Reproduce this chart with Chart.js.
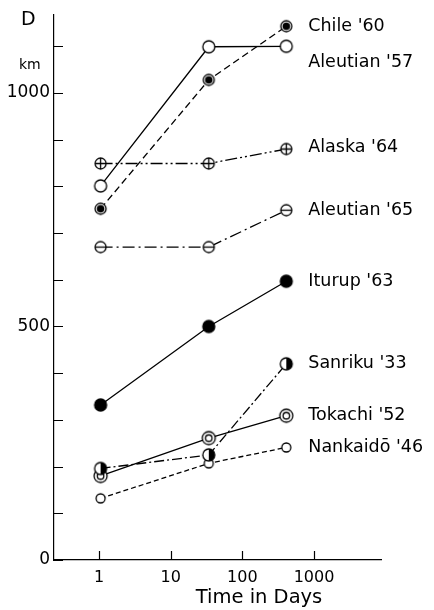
<!DOCTYPE html>
<html>
<head>
<meta charset="utf-8">
<style>
  body { margin: 0; background: #fff; }
  #wrap { width: 434px; height: 610px; }
</style>
</head>
<body>
<div id="wrap"><canvas id="chart" width="434" height="610"></canvas></div>
<script src="https://cdn.jsdelivr.net/npm/chart.js"></script>
<script>
    // Time after the earthquake (days) for the three measurements
    const days = [1.05, 34, 410];

    const chile60 = [752, 1028, 1143];
    const aleutian57 = [801, 1099, 1100];
    const alaska64 = [849, 849, 880];
    const aleutian65 = [670, 670, 749];
    const iturup63 = [332, 500, 597];
    const sanriku33 = [196, 225, 420];
    const tokachi52 = [180, 261, 309];
    const nankaido46 = [132, 207, 241];

    const seriesNames = ["Chile '60", "Aleutian '57", "Alaska '64", "Aleutian '65",
        "Iturup '63", "Sanriku '33", "Tokachi '52", "Nankaidō '46"];

    const xTicks = [1, 10, 100, 1000];
    const yTickStep = 100;
    const yLabelled = [0, 500, 1000];

    const FONT = '"DejaVu Sans", sans-serif';

    // small canvases used as point markers
    function makeMarker(kind, r) {
        const size = Math.ceil(2 * r + 4);
        const c = document.createElement('canvas');
        c.width = size; c.height = size;
        const g = c.getContext('2d');
        const m = size / 2;
        g.lineWidth = 1.3;
        g.strokeStyle = '#000';
        g.fillStyle = '#fff';
        g.beginPath(); g.arc(m, m, r, 0, Math.PI * 2);
        g.fill();
        if (kind === 'filled') { g.fillStyle = '#000'; g.fill(); }
        g.stroke();
        if (kind === 'dot') {
            g.fillStyle = '#000';
            g.beginPath(); g.arc(m, m, r * 0.68, 0, Math.PI * 2); g.fill();
        }
        if (kind === 'cross' || kind === 'minus') {
            g.beginPath();
            g.moveTo(m - r, m); g.lineTo(m + r, m);
            if (kind === 'cross') { g.moveTo(m, m - r); g.lineTo(m, m + r); }
            g.stroke();
        }
        if (kind === 'half') {
            g.fillStyle = '#000';
            g.beginPath(); g.arc(m, m, r, -Math.PI / 2, Math.PI / 2); g.closePath(); g.fill();
        }
        if (kind === 'double') {
            g.beginPath(); g.arc(m, m, r * 0.5, 0, Math.PI * 2); g.stroke();
        }
        return c;
    }

    function series(i, data, kind, r, dash, labelDy) {
        return {
            label: seriesNames[i],
            data: days.map((d, j) => ({ x: d, y: data[j] })),
            borderColor: '#000',
            borderWidth: 1.3,
            borderDash: dash,
            pointStyle: makeMarker(kind, r),
            pointRadius: r,
            fill: false,
            clip: false,
            labelDy: labelDy || 0
        };
    }

    const datasets = [
        series(0, chile60, 'dot', 5.5, [7, 4]),
        series(1, aleutian57, 'open', 6, [], 16),
        series(2, alaska64, 'cross', 5.5, [12, 3, 2, 3, 2, 3], -2),
        series(3, aleutian65, 'minus', 5.5, [12, 4, 2, 4]),
        series(4, iturup63, 'filled', 6, []),
        series(5, sanriku33, 'half', 6, [10, 3, 2, 3]),
        series(6, tokachi52, 'double', 6.5, []),
        series(7, nankaido46, 'open', 4.5, [5, 3])
    ];

    // inward tick marks, series names and axis captions
    const decorations = {
        id: 'decorations',
        afterDraw(chart) {
            const ctx = chart.ctx;
            const xs = chart.scales.x, ys = chart.scales.y;
            const area = chart.chartArea;
            ctx.save();
            ctx.strokeStyle = '#000';
            ctx.lineWidth = 1.2;
            ctx.beginPath();
            ys.ticks.forEach(t => {
                const y = Math.round(ys.getPixelForValue(t.value)) + 0.5;
                ctx.moveTo(area.left, y); ctx.lineTo(area.left + 9, y);
            });
            xs.ticks.forEach(t => {
                const x = Math.round(xs.getPixelForValue(t.value)) + 0.5;
                ctx.moveTo(x, area.bottom); ctx.lineTo(x, area.bottom - 9);
            });
            ctx.stroke();

            ctx.fillStyle = '#000';
            ctx.font = '17.5px ' + FONT;
            ctx.textBaseline = 'middle';
            ctx.textAlign = 'left';
            chart.data.datasets.forEach((ds, i) => {
                const pts = chart.getDatasetMeta(i).data;
                const last = pts[pts.length - 1];
                ctx.fillText(ds.label, last.x + 22, last.y + ds.labelDy);
            });

            ctx.font = '19px ' + FONT;
            ctx.fillText('D', 21, 20);
            ctx.font = '14px ' + FONT;
            ctx.fillText('km', 19, 65);
            ctx.textAlign = 'center';
            ctx.font = '19.5px ' + FONT;
            ctx.fillText('Time in Days', 259, 598);
            ctx.restore();
        }
    };

    new Chart(document.getElementById('chart'), {
        type: 'line',
        data: { datasets: datasets },
        options: {
            responsive: false,
            animation: false,
            layout: { padding: { top: 15, right: 53, left: 0, bottom: 0 } },
            plugins: { legend: { display: false }, tooltip: { enabled: false } },
            scales: {
                x: {
                    type: 'logarithmic',
                    min: 0.235,
                    max: 8600,
                    afterBuildTicks: s => { s.ticks = xTicks.map(v => ({ value: v })); },
                    afterFit: s => { s.height = 50; },
                    grid: { display: false, drawTicks: false },
                    border: { display: true, color: '#000', width: 1.2 },
                    ticks: {
                        color: '#000',
                        font: { family: FONT, size: 16 },
                        padding: 8,
                        maxRotation: 0,
                        callback: v => String(v)
                    }
                },
                y: {
                    min: 0,
                    max: 1167,
                    afterBuildTicks: s => {
                        const t = [];
                        for (let v = 0; v <= 1100; v += yTickStep) t.push({ value: v });
                        s.ticks = t;
                    },
                    afterFit: s => { s.width = 54; },
                    grid: { display: false, drawTicks: false },
                    border: { display: true, color: '#000', width: 1.2 },
                    ticks: {
                        color: '#000',
                        font: { family: FONT, size: 17 },
                        padding: 4,
                        callback: v => yLabelled.includes(v) ? String(v) : ''
                    }
                }
            }
        },
        plugins: [decorations]
    });
</script>
</body>
</html>
